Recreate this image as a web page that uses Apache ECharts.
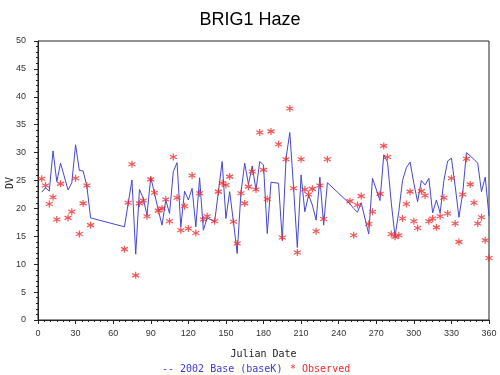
<!DOCTYPE html>
<html><head><meta charset="utf-8">
<script src="https://cdn.jsdelivr.net/npm/echarts/dist/echarts.min.js"></script>
<style>html,body{margin:0;padding:0;background:#fff}#c{width:500px;height:375px}</style>
</head><body><div id="c"></div>
<script>
const titleText = 'BRIG1 Haze';
const xName = 'Julian Date';
const yName = 'DV';
const baseName = '2002 Base (baseK)';
const obsName = 'Observed';

const baseDays = [3,6,9,12,15,18,24,27,30,33,36,39,42,69,72,75,78,81,84,87,90,93,96,99,102,105,108,111,114,117,120,123,126,129,132,135,141,144,147,150,153,156,159,162,165,168,171,174,177,180,183,186,192,195,198,201,204,207,210,213,216,219,222,225,228,231,249,252,255,258,264,267,273,276,279,282,285,288,291,294,297,300,303,306,309,312,315,318,321,324,327,330,333,336,339,342,345,348,351,354,357,360];
const baseVals = [22.9,23.7,23.1,30.3,24.8,28.1,23.3,24.6,31.4,26.8,26.7,24.0,18.3,16.7,20.9,25.1,11.8,23.4,21.8,18.8,25.6,22.7,19.7,17.0,21.5,19.1,26.6,28.2,16.7,23.1,21.5,23.6,16.7,25.5,16.1,18.3,17.6,23.0,28.4,18.2,23.0,17.6,11.9,22.8,28.1,24.3,27.6,23.3,28.4,27.8,15.5,24.7,24.5,14.3,29.0,33.6,23.7,13.0,26.0,19.4,22.4,20.6,17.9,25.6,17.0,24.6,20.8,20.0,19.3,21.0,15.4,25.4,21.4,29.6,28.3,21.0,14.9,19.5,25.0,27.3,28.3,24.5,21.2,25.0,24.2,25.4,19.2,21.5,19.2,25.0,28.5,29.0,24.0,18.4,22.7,30.0,29.4,28.8,28.1,23.0,25.6,18.6];

const obsDays = [3,6,9,12,15,18,24,27,30,33,36,39,42,69,72,75,78,81,84,87,90,93,96,99,102,105,108,111,114,117,120,123,126,129,132,135,141,144,147,150,153,156,159,162,165,168,171,174,177,180,183,186,192,195,198,201,204,207,210,213,216,219,222,225,228,231,249,252,255,258,264,267,273,276,279,282,285,288,291,294,297,300,303,306,309,312,315,318,321,324,327,330,333,336,339,342,345,348,351,354,357,360];
const obsVals = [25.3,24.1,20.8,22.0,18.0,24.4,18.3,19.4,25.4,15.4,20.9,24.1,17.0,12.7,21.0,27.9,8.0,20.9,21.4,18.6,25.2,22.8,19.6,20.0,21.6,17.7,29.2,21.9,16.1,20.4,16.4,25.9,15.6,22.7,18.0,18.6,17.7,23.0,24.5,24.2,25.7,17.6,13.7,22.7,20.9,23.9,26.6,23.4,33.6,26.9,21.7,33.8,31.5,14.8,28.8,37.9,23.6,12.1,28.8,23.4,22.5,23.5,15.9,24.1,18.1,28.8,21.3,15.2,20.6,22.2,17.2,19.4,22.6,31.2,29.2,15.4,14.9,15.2,18.2,20.8,23.0,17.7,16.5,23.1,22.3,17.7,18.2,16.6,18.6,21.9,19.1,25.4,17.3,14.0,22.5,28.9,24.3,21.0,17.3,18.4,14.3,11.1];

const xMin = 0, xMax = 360, xStep = 30;
const yMin = 0, yMax = 50, yStep = 5;

const chart = echarts.init(document.getElementById('c'), null, {renderer: 'canvas'});
const tickFont = {fontFamily: 'Liberation Sans', fontSize: 9, color: '#333'};
const star = 'path://M5,0 L5,10 M0.67,2.5 L9.33,7.5 M0.67,7.5 L9.33,2.5';

chart.setOption({
  animation: false,
  backgroundColor: '#fff',
  title: {text: titleText, left: 'center', top: 6,
    textStyle: {fontFamily: 'Liberation Sans', fontSize: 18, fontWeight: 'normal', color: '#000'}},
  grid: {left: 38, right: 11, top: 41, bottom: 55, show: true, borderColor: '#222', borderWidth: 1,
    containLabel: false, outerBoundsMode: 'none'},
  xAxis: {type: 'value', min: xMin, max: xMax, interval: xStep,
    name: xName, nameLocation: 'middle', nameGap: 29,
    nameTextStyle: {fontFamily: 'DejaVu Sans Mono', fontSize: 10, color: '#222'},
    axisLine: {lineStyle: {color: '#222'}},
    axisTick: {length: 4, lineStyle: {color: '#222'}},
    minorTick: {show: true, splitNumber: 6, length: 2, lineStyle: {color: '#222'}},
    axisLabel: Object.assign({margin: 9}, tickFont),
    splitLine: {show: false}},
  yAxis: {type: 'value', min: yMin, max: yMax, interval: yStep,
    axisLine: {lineStyle: {color: '#222'}},
    axisTick: {length: 4, lineStyle: {color: '#222'}},
    minorTick: {show: true, splitNumber: 5, length: 2, lineStyle: {color: '#222'}},
    axisLabel: Object.assign({margin: 12}, tickFont),
    splitLine: {show: false}},
  series: [
    {name: baseName, type: 'line', data: baseDays.map((d, i) => [d, baseVals[i]]),
      showSymbol: false, symbol: 'none', lineStyle: {color: '#4646d6', width: 1}, z: 2},
    {name: obsName, type: 'scatter', data: obsDays.map((d, i) => [d, obsVals[i]]),
      symbol: star, symbolSize: 7,
      itemStyle: {color: 'rgba(0,0,0,0)', borderColor: '#ee2a2a', borderWidth: 1.2}, z: 3}
  ],
  graphic: [
    {type: 'text', x: 10, y: 183, rotation: Math.PI / 2,
      style: {text: yName, fill: '#222', font: '10px "DejaVu Sans Mono"', align: 'center', verticalAlign: 'middle'}},
    {type: 'text', left: 162, top: 364, style: {text: '-- ' + baseName, fill: '#3a3ad0',
      font: '10px "DejaVu Sans Mono"'}},
    {type: 'text', left: 290, top: 364, style: {text: '* ' + obsName, fill: '#ee2a2a',
      font: '10px "DejaVu Sans Mono"'}}
  ]
});
</script></body></html>
